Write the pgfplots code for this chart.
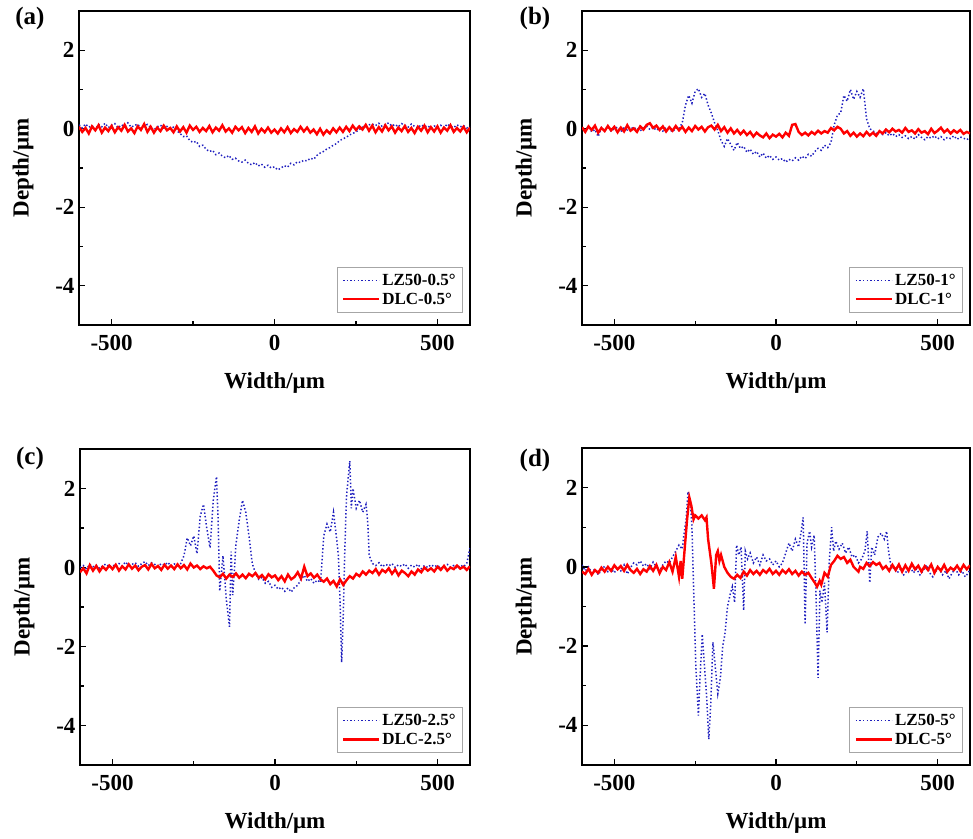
\documentclass[border=0pt]{standalone}
\usepackage{fontspec}
\setmainfont{Liberation Serif}
\usepackage{pgfplots}
\pgfplotsset{compat=1.18}
\definecolor{lzblue}{RGB}{30,30,190}
\definecolor{dlcred}{RGB}{255,0,0}
\pgfplotsset{
  panel/.style={
    scale only axis,
    xmin=-600, xmax=600, ymin=-5, ymax=3,
    xtick={-500,0,500}, xticklabels={-500,0,500},
    ytick={-4,-2,0,2}, yticklabels={-4,-2,0,2},
    minor xtick={-250,250}, minor ytick={-3,-1,1},
    xtick pos=bottom, ytick pos=left,
    tick align=inside,
    major tick length=6pt, minor tick length=4pt,
    every tick/.style={black, line width=1.3pt},
    axis line style={line width=1.6pt},
    tick label style={font=\fontsize{23}{26}\selectfont\bfseries},
    xticklabel style={yshift=-7pt},
    yticklabel style={xshift=-1pt},
    xlabel={Width/μm}, ylabel={Depth/μm},
    every axis x label/.style={at={(axis description cs:0.5,0)}, yshift=-58pt, anchor=center, font=\fontsize{23}{26}\selectfont\bfseries},
    every axis y label/.style={at={(axis description cs:0,0.5)}, xshift=-56pt, rotate=90, anchor=center, font=\fontsize{23}{26}\selectfont\bfseries},
    legend style={at={(1,0)}, anchor=south east, xshift=-7pt, yshift=12pt,
      draw=gray!70, line width=0.6pt, fill=white,
      font=\fontsize{17}{19}\selectfont\bfseries,
      inner xsep=5pt, inner ysep=5pt, row sep=2pt, cells={anchor=west}},
    legend image code/.code={\draw[#1] (0pt,0pt) -- (36pt,0pt);},
  },
  lz/.style={lzblue, line width=1.5pt, dash pattern=on 1.4pt off 2.2pt},
  dlc/.style={dlcred, line width=2.4pt},
}
\begin{document}
\begin{tikzpicture}
\useasboundingbox (0pt,0pt) rectangle (973pt,838pt);
% ---------------- (a)
\begin{axis}[panel, at={(79pt,513pt)}, anchor=south west, width=391pt, height=314pt]
\addplot[lz] coordinates {
(-600,0.10)(-590,0.02)(-580,0.12)(-570,0.04)(-560,0.08)(-550,-0.02)(-540,0.11)(-530,0.05)(-520,0.14)(-510,0.03)
(-500,0.09)(-490,0.13)(-480,0.02)(-470,0.10)(-460,0.06)(-450,0.15)(-440,0.04)(-430,0.08)(-420,0.12)(-410,0.01)
(-400,0.07)(-390,0.11)(-380,0.03)(-370,-0.03)(-360,0.05)(-350,0.09)(-340,0.02)(-330,0.06)(-320,0.00)(-310,0.04)
(-300,-0.05)(-290,-0.12)(-280,-0.20)(-270,-0.18)(-260,-0.30)(-250,-0.35)(-240,-0.32)(-230,-0.45)(-220,-0.42)(-210,-0.52)
(-200,-0.58)(-190,-0.55)(-180,-0.66)(-170,-0.62)(-160,-0.70)(-150,-0.74)(-140,-0.68)(-130,-0.78)(-120,-0.75)(-110,-0.82)
(-100,-0.85)(-90,-0.80)(-80,-0.88)(-70,-0.92)(-60,-0.86)(-50,-0.95)(-40,-0.90)(-30,-0.98)(-20,-0.93)(-10,-1.00)
(0,-0.97)(10,-1.05)(20,-1.00)(30,-0.94)(40,-0.98)(50,-0.88)(60,-0.92)(70,-0.84)(80,-0.86)(90,-0.80)
(100,-0.82)(110,-0.75)(120,-0.78)(130,-0.68)(140,-0.62)(150,-0.58)(160,-0.52)(170,-0.48)(180,-0.42)(190,-0.38)
(200,-0.30)(210,-0.26)(220,-0.22)(230,-0.16)(240,-0.12)(250,-0.08)(260,-0.02)(270,0.04)(280,0.06)(290,0.10)
(300,0.12)(310,0.08)(320,0.14)(330,0.06)(340,0.10)(350,0.15)(360,0.07)(370,0.11)(380,0.05)(390,0.13)
(400,0.09)(410,0.04)(420,0.12)(430,0.06)(440,0.02)(450,0.10)(460,0.05)(470,0.08)(480,0.01)(490,0.07)
(500,0.04)(510,0.09)(520,0.02)(530,0.12)(540,0.06)(550,0.03)(560,0.10)(570,0.05)(580,0.08)(590,0.02)(600,0.06)
};
\addlegendentry{LZ50-0.5°}
\addplot[dlc] coordinates {
(-600,0.05)(-590,-0.08)(-580,0.02)(-570,-0.12)(-560,0.06)(-550,-0.04)(-540,0.09)(-530,-0.10)(-520,0.03)(-510,-0.06)
(-500,0.07)(-490,-0.09)(-480,0.04)(-470,-0.05)(-460,0.10)(-450,-0.07)(-440,0.01)(-430,-0.11)(-420,0.06)(-410,-0.03)
(-400,0.12)(-390,-0.08)(-380,0.05)(-370,-0.10)(-360,0.03)(-350,-0.06)(-340,0.08)(-330,-0.04)(-320,0.02)(-310,-0.09)
(-300,0.06)(-290,-0.07)(-280,0.04)(-270,-0.10)(-260,0.08)(-250,-0.03)(-240,0.05)(-230,-0.08)(-220,0.02)(-210,-0.06)
(-200,0.07)(-190,-0.09)(-180,0.03)(-170,-0.05)(-160,0.09)(-150,-0.07)(-140,0.01)(-130,-0.10)(-120,0.05)(-110,-0.04)
(-100,0.04)(-90,-0.11)(-80,0.02)(-70,-0.08)(-60,0.06)(-50,-0.12)(-40,0.00)(-30,-0.09)(-20,0.03)(-10,-0.10)
(0,-0.02)(10,-0.12)(20,0.01)(30,-0.09)(40,0.04)(50,-0.11)(60,-0.01)(70,-0.08)(80,0.05)(90,-0.07)
(100,0.03)(110,-0.10)(120,-0.02)(130,-0.14)(140,0.00)(150,-0.15)(160,-0.04)(170,-0.12)(180,0.01)(190,-0.09)
(200,0.03)(210,-0.08)(220,0.05)(230,-0.06)(240,0.08)(250,-0.03)(260,0.06)(270,-0.02)(280,0.10)(290,-0.05)
(300,0.08)(310,-0.09)(320,0.04)(330,-0.07)(340,0.09)(350,-0.04)(360,0.06)(370,-0.10)(380,0.03)(390,-0.06)
(400,0.07)(410,-0.08)(420,0.02)(430,-0.11)(440,0.05)(450,-0.05)(460,0.08)(470,-0.09)(480,0.04)(490,-0.07)
(500,0.06)(510,-0.10)(520,0.03)(530,-0.05)(540,0.09)(550,-0.08)(560,0.02)(570,-0.07)(580,0.05)(590,-0.09)(600,0.03)
};
\addlegendentry{DLC-0.5°}
\end{axis}
% ---------------- (b)
\begin{axis}[panel, at={(582pt,513pt)}, anchor=south west, width=388pt, height=314pt]
\addplot[lz] coordinates {
(-600,0.02)(-590,-0.05)(-580,0.06)(-570,-0.08)(-560,-0.02)(-550,-0.20)(-540,0.03)(-530,-0.04)(-520,0.05)(-510,-0.06)
(-500,0.00)(-490,0.04)(-480,-0.07)(-470,0.02)(-460,-0.03)(-450,0.05)(-440,-0.01)(-430,0.03)(-420,-0.05)(-410,0.01)
(-400,0.06)(-390,-0.02)(-380,0.04)(-370,-0.04)(-360,0.02)(-350,-0.06)(-340,0.03)(-330,-0.01)(-320,-0.08)(-310,0.02)
(-300,0.00)(-290,0.15)(-280,0.60)(-270,0.85)(-260,0.65)(-250,0.95)(-240,1.02)(-230,0.80)(-220,0.90)(-210,0.60)
(-200,0.40)(-190,0.15)(-180,-0.05)(-170,-0.30)(-160,-0.45)(-150,-0.25)(-140,-0.40)(-130,-0.55)(-120,-0.35)(-110,-0.50)
(-100,-0.45)(-90,-0.60)(-80,-0.52)(-70,-0.65)(-60,-0.58)(-50,-0.72)(-40,-0.62)(-30,-0.75)(-20,-0.68)(-10,-0.78)
(0,-0.72)(10,-0.80)(20,-0.76)(30,-0.85)(40,-0.78)(50,-0.82)(60,-0.74)(70,-0.80)(80,-0.70)(90,-0.76)
(100,-0.65)(110,-0.70)(120,-0.58)(130,-0.50)(140,-0.55)(150,-0.42)(160,-0.48)(170,-0.35)(180,0.10)(190,0.35)
(200,0.40)(210,0.85)(220,0.70)(230,1.00)(240,0.75)(250,0.95)(260,0.80)(270,1.02)(280,0.25)(290,0.00)
(300,-0.05)(310,-0.12)(320,-0.08)(330,-0.15)(340,-0.10)(350,-0.18)(360,-0.12)(370,-0.20)(380,-0.15)(390,-0.22)
(400,-0.18)(410,-0.25)(420,-0.20)(430,-0.26)(440,-0.15)(450,-0.22)(460,-0.28)(470,-0.20)(480,-0.24)(490,-0.18)
(500,-0.26)(510,-0.20)(520,-0.28)(530,-0.22)(540,-0.25)(550,-0.18)(560,-0.27)(570,-0.21)(580,-0.24)(590,-0.28)(600,-0.22)
};
\addlegendentry{LZ50-1°}
\addplot[dlc] coordinates {
(-600,0.04)(-590,-0.08)(-580,0.06)(-570,-0.03)(-560,0.08)(-550,-0.10)(-540,0.02)(-530,-0.06)(-520,0.07)(-510,-0.04)
(-500,0.05)(-490,-0.09)(-480,0.03)(-470,-0.07)(-460,0.09)(-450,-0.05)(-440,0.01)(-430,-0.08)(-420,0.06)(-410,-0.02)
(-400,0.10)(-390,0.14)(-380,0.02)(-370,0.08)(-360,-0.03)(-350,0.06)(-340,-0.07)(-330,0.04)(-320,-0.05)(-310,0.07)
(-300,-0.04)(-290,0.05)(-280,-0.08)(-270,0.03)(-260,-0.06)(-250,0.07)(-240,-0.02)(-230,0.05)(-220,-0.07)(-210,0.04)
(-200,0.08)(-190,-0.02)(-180,0.10)(-170,-0.06)(-160,0.04)(-150,-0.10)(-140,0.01)(-130,-0.12)(-120,-0.03)(-110,-0.14)
(-100,-0.05)(-90,-0.16)(-80,-0.08)(-70,-0.20)(-60,-0.10)(-50,-0.17)(-40,-0.22)(-30,-0.12)(-20,-0.24)(-10,-0.15)
(0,-0.20)(10,-0.13)(20,-0.22)(30,-0.10)(40,-0.18)(50,0.10)(60,0.12)(70,-0.08)(80,-0.16)(90,-0.10)
(100,-0.17)(110,-0.08)(120,-0.14)(130,-0.05)(140,-0.12)(150,-0.06)(160,-0.10)(170,0.02)(180,-0.04)(190,0.05)
(200,0.00)(210,-0.12)(220,-0.06)(230,-0.18)(240,-0.10)(250,-0.20)(260,-0.12)(270,-0.19)(280,-0.08)(290,-0.17)
(300,-0.10)(310,-0.18)(320,-0.06)(330,-0.12)(340,-0.02)(350,-0.09)(360,0.00)(370,-0.07)(380,-0.03)(390,-0.10)
(400,0.02)(410,-0.08)(420,-0.04)(430,-0.12)(440,-0.01)(450,-0.10)(460,-0.06)(470,-0.14)(480,0.00)(490,-0.11)
(500,-0.05)(510,0.03)(520,-0.09)(530,-0.02)(540,-0.12)(550,-0.04)(560,-0.10)(570,-0.03)(580,-0.13)(590,-0.08)(600,-0.12)
};
\addlegendentry{DLC-1°}
\end{axis}
% ---------------- (c)
\begin{axis}[panel, at={(80pt,73pt)}, anchor=south west, width=390pt, height=316pt]
\addplot[lz] coordinates {
(-600,0.00)(-590,0.05)(-580,-0.04)(-570,0.08)(-560,0.02)(-550,0.06)(-540,-0.02)(-530,0.04)(-520,0.09)(-510,0.01)
(-500,0.06)(-490,0.02)(-480,0.10)(-470,0.04)(-460,0.14)(-450,0.05)(-440,0.08)(-430,0.12)(-420,0.03)(-410,0.10)
(-400,0.15)(-390,0.05)(-380,0.12)(-370,0.08)(-360,0.02)(-350,0.10)(-340,0.06)(-330,0.13)(-320,0.04)(-310,0.09)
(-300,0.05)(-290,0.10)(-280,0.30)(-270,0.75)(-260,0.55)(-250,0.80)(-240,0.35)(-230,1.30)(-220,1.60)(-210,1.00)
(-200,0.50)(-190,1.70)(-180,2.30)(-175,1.20)(-170,-0.60)(-160,0.30)(-150,-0.80)(-140,-1.50)(-135,0.40)(-130,-0.70)
(-120,0.60)(-110,1.20)(-100,1.70)(-90,1.40)(-80,0.80)(-70,0.10)(-60,-0.15)(-50,-0.30)(-40,-0.25)(-30,-0.40)
(-20,-0.35)(-10,-0.50)(0,-0.45)(10,-0.55)(20,-0.50)(30,-0.60)(40,-0.52)(50,-0.62)(60,-0.50)(70,-0.45)
(80,-0.30)(90,-0.20)(100,-0.35)(110,-0.28)(120,-0.40)(130,-0.32)(140,-0.38)(150,0.80)(160,1.10)(170,0.90)
(180,1.40)(190,0.70)(195,0.30)(200,-0.80)(205,-2.40)(210,-1.20)(215,0.50)(220,1.80)(230,2.70)(235,1.50)
(240,2.00)(250,1.50)(260,1.70)(270,1.40)(280,1.60)(285,1.20)(290,0.30)(300,0.10)(310,0.05)(320,0.12)
(330,0.02)(340,0.08)(350,0.04)(360,0.10)(370,0.00)(380,0.07)(390,0.03)(400,0.09)(410,-0.02)(420,0.06)
(430,0.01)(440,0.08)(450,-0.03)(460,0.05)(470,0.00)(480,0.07)(490,0.02)(500,0.06)(510,-0.02)(520,0.04)
(530,0.08)(540,0.01)(550,0.05)(560,-0.02)(570,0.06)(580,0.02)(590,0.10)(595,0.30)(600,0.50)
};
\addlegendentry{LZ50-2.5°}
\addplot[dlc] coordinates {
(-600,-0.12)(-590,-0.02)(-580,-0.15)(-570,0.06)(-560,-0.08)(-550,0.04)(-540,-0.10)(-530,0.02)(-520,-0.06)(-510,0.05)
(-500,-0.04)(-490,0.07)(-480,-0.08)(-470,0.03)(-460,-0.05)(-450,0.08)(-440,-0.03)(-430,0.05)(-420,-0.07)(-410,0.02)
(-400,0.06)(-390,-0.05)(-380,0.09)(-370,-0.02)(-360,0.04)(-350,-0.06)(-340,0.07)(-330,-0.03)(-320,0.05)(-310,-0.04)
(-300,0.08)(-290,-0.02)(-280,0.06)(-270,-0.05)(-260,0.10)(-250,0.00)(-240,0.05)(-230,-0.04)(-220,0.03)(-210,-0.02)
(-200,0.02)(-190,-0.08)(-180,-0.20)(-170,-0.25)(-160,-0.16)(-150,-0.28)(-140,-0.18)(-130,-0.24)(-120,-0.15)(-110,-0.26)
(-100,-0.18)(-90,-0.27)(-80,-0.16)(-70,-0.22)(-60,-0.14)(-50,-0.26)(-40,-0.19)(-30,-0.30)(-20,-0.17)(-10,-0.25)
(0,-0.20)(10,-0.32)(20,-0.22)(30,-0.35)(40,-0.18)(50,-0.30)(60,-0.24)(70,-0.12)(80,-0.28)(90,0.02)
(100,-0.22)(110,-0.15)(120,-0.26)(130,-0.18)(140,-0.30)(150,-0.36)(160,-0.28)(170,-0.42)(180,-0.34)(190,-0.48)
(200,-0.30)(210,-0.44)(220,-0.32)(230,-0.22)(240,-0.28)(250,-0.16)(260,-0.22)(270,-0.10)(280,-0.18)(290,-0.08)
(300,-0.14)(310,-0.04)(320,-0.18)(330,-0.06)(340,-0.12)(350,-0.02)(360,-0.16)(370,-0.05)(380,-0.20)(390,-0.08)
(400,-0.14)(410,-0.22)(420,-0.10)(430,-0.18)(440,-0.05)(450,-0.12)(460,0.00)(470,-0.08)(480,-0.02)(490,-0.10)
(500,0.02)(510,-0.06)(520,0.04)(530,-0.08)(540,0.00)(550,-0.04)(560,0.05)(570,-0.03)(580,0.02)(590,-0.06)(600,0.03)
};
\addlegendentry{DLC-2.5°}
\end{axis}
% ---------------- (d)
\begin{axis}[panel, at={(582pt,73pt)}, anchor=south west, width=388pt, height=317pt]
\addplot[lz] coordinates {
(-600,0.05)(-590,-0.10)(-580,0.00)(-570,-0.15)(-560,-0.05)(-550,-0.20)(-540,-0.08)(-530,0.02)(-520,-0.12)(-510,-0.05)
(-500,-0.15)(-490,0.00)(-480,-0.10)(-470,0.05)(-460,-0.18)(-450,-0.02)(-440,0.10)(-430,0.05)(-420,0.15)(-410,0.02)
(-400,0.08)(-390,-0.05)(-380,0.12)(-370,0.00)(-360,-0.10)(-350,0.05)(-340,0.15)(-330,0.10)(-320,0.25)(-310,0.40)
(-300,0.55)(-290,0.45)(-285,0.80)(-278,1.20)(-272,1.90)(-265,1.60)(-260,1.00)(-255,-0.50)(-248,-2.50)(-240,-3.75)
(-235,-2.80)(-228,-1.70)(-222,-2.40)(-215,-3.20)(-208,-4.35)(-202,-3.50)(-195,-1.90)(-188,-2.50)(-180,-3.20)(-172,-2.80)
(-165,-2.00)(-158,-1.70)(-150,-1.00)(-142,-0.70)(-135,-0.50)(-128,-0.90)(-122,0.55)(-115,0.30)(-108,0.50)(-100,-1.10)
(-95,0.40)(-88,0.20)(-80,0.35)(-70,0.10)(-60,0.25)(-50,0.05)(-40,0.30)(-30,0.15)(-20,0.20)(-10,0.05)
(0,0.15)(10,0.00)(20,0.10)(30,0.35)(40,0.60)(50,0.40)(60,0.70)(70,0.50)(78,0.90)(84,1.25)
(90,-1.45)(96,0.60)(104,0.90)(110,0.50)(118,0.80)(124,-0.80)(130,-2.80)(136,-0.60)(142,-0.90)(150,-0.40)
(158,-1.65)(165,0.20)(172,1.00)(178,0.40)(185,0.65)(195,0.45)(205,0.60)(215,0.35)(225,0.50)(235,0.25)
(245,0.30)(255,0.10)(265,0.20)(275,0.40)(282,0.90)(290,-0.40)(296,0.50)(305,0.30)(315,0.75)(325,0.85)
(335,0.70)(342,0.90)(348,0.40)(355,0.05)(365,-0.05)(375,-0.15)(385,-0.05)(395,-0.20)(405,-0.10)(415,0.00)
(425,-0.15)(435,-0.05)(445,-0.20)(455,-0.10)(465,0.05)(475,-0.15)(485,-0.25)(495,-0.10)(505,-0.05)(515,-0.20)
(525,-0.10)(535,-0.30)(545,-0.15)(555,-0.05)(565,-0.20)(575,-0.10)(585,-0.25)(595,-0.15)(600,-0.05)
};
\addlegendentry{LZ50-5°}
\addplot[dlc] coordinates {
(-600,-0.12)(-590,-0.18)(-580,-0.05)(-570,-0.20)(-560,-0.08)(-550,-0.15)(-540,-0.02)(-530,-0.12)(-520,0.00)(-510,-0.10)
(-500,0.04)(-490,-0.06)(-480,0.02)(-470,-0.10)(-460,0.05)(-450,-0.08)(-440,-0.15)(-430,-0.05)(-420,-0.18)(-410,-0.06)
(-400,-0.12)(-390,0.02)(-380,-0.10)(-370,0.05)(-360,-0.16)(-350,0.00)(-340,-0.08)(-330,0.12)(-320,-0.12)(-310,0.25)
(-300,-0.25)(-295,0.15)(-290,-0.30)(-285,0.20)(-275,1.20)(-268,1.75)(-262,1.55)(-255,1.20)(-250,1.30)(-240,1.22)
(-230,1.30)(-220,1.18)(-215,1.25)(-210,0.70)(-200,0.10)(-192,-0.55)(-185,0.30)(-180,0.40)(-175,0.15)(-170,0.30)
(-160,0.00)(-150,-0.15)(-140,-0.25)(-130,-0.30)(-120,-0.20)(-110,-0.28)(-100,-0.12)(-90,-0.22)(-80,-0.08)(-70,-0.18)
(-60,-0.10)(-50,-0.20)(-40,-0.08)(-30,-0.15)(-20,-0.05)(-10,-0.18)(0,-0.10)(10,-0.20)(20,-0.08)(30,-0.16)
(40,-0.06)(50,-0.18)(60,-0.10)(70,-0.22)(80,-0.12)(90,-0.20)(100,-0.15)(110,-0.28)(120,-0.40)(127,-0.50)
(135,-0.35)(140,-0.45)(150,-0.15)(160,-0.25)(170,0.05)(180,0.15)(190,0.28)(200,0.20)(210,0.25)(220,0.10)
(230,0.18)(240,0.00)(250,-0.08)(255,-0.12)(260,0.00)(270,-0.05)(280,0.10)(290,0.02)(300,0.12)(310,0.05)
(320,0.10)(330,-0.05)(340,0.02)(350,-0.10)(360,0.05)(370,-0.08)(380,0.06)(390,-0.12)(400,0.04)(410,-0.10)
(420,0.08)(430,-0.06)(440,0.03)(450,-0.12)(460,0.02)(470,-0.08)(480,0.06)(490,-0.15)(500,0.00)(510,-0.10)
(520,0.05)(530,-0.12)(540,-0.02)(550,-0.08)(560,0.03)(570,-0.10)(580,0.05)(590,-0.06)(600,0.04)
};
\addlegendentry{DLC-5°}
\end{axis}
% panel labels
\node[font=\fontsize{25}{28}\selectfont\bfseries] at (30pt,820pt) {(a)};
\node[font=\fontsize{25}{28}\selectfont\bfseries] at (535pt,820pt) {(b)};
\node[font=\fontsize{25}{28}\selectfont\bfseries] at (30pt,380pt) {(c)};
\node[font=\fontsize{25}{28}\selectfont\bfseries] at (535pt,378pt) {(d)};
\end{tikzpicture}
\end{document}
